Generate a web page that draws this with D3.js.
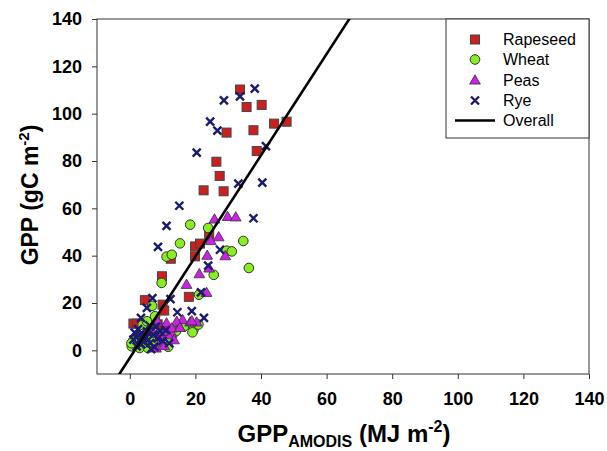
<!DOCTYPE html>
<html>
<head>
<meta charset="utf-8">
<script src="https://cdn.jsdelivr.net/npm/d3@7"></script>
<style>
  html, body { margin: 0; padding: 0; background: #fff; }
  text { font-family: "Liberation Sans", Arial, sans-serif; }
</style>
</head>
<body>
<svg id="chart" width="607" height="451"></svg>
<script>
// ---- Data ----
const xTicks = [0, 20, 40, 60, 80, 100, 120, 140];
const yTicks = [0, 20, 40, 60, 80, 100, 120, 140];
const seriesNames = ["Rapeseed", "Wheat", "Peas", "Rye", "Overall"];

const rapeseed = [[33.6,110.2],[35.6,102.8],[40.2,103.7],[44.0,95.8],[47.8,96.6],[29.5,92.0],[37.7,93.0],[38.7,84.2],[26.4,79.7],[27.4,73.7],[22.5,67.6],[28.6,67.2],[19.9,43.9],[21.4,45.1],[19.9,39.7],[12.5,38.7],[9.8,31.3],[24.2,49.2],[18.0,22.6],[4.6,21.2],[10.0,19.3],[10.5,16.8],[1.1,11.3],[2.1,11.3],[8.5,11.0],[5.5,7.0],[3.0,5.0],[2.5,3.5]];

const wheat = [[18.4,53.1],[23.9,51.7],[15.3,45.2],[34.6,46.2],[29.5,42.1],[31.1,41.8],[11.2,39.6],[12.8,40.4],[36.3,34.8],[25.6,31.9],[9.7,28.5],[21.1,23.5],[6.8,18.8],[7.7,14.4],[19.4,8.7],[19.1,7.6],[14.1,8.1],[16.5,10.1],[20.9,10.9],[3.9,10.7],[5.2,12.3],[8.7,2.1],[1.6,2.4],[0.6,1.7],[3.0,1.0],[11.7,1.5],[6.2,5.0],[9.5,6.5],[2.5,6.0],[4.5,3.0],[12.5,5.0],[1.0,4.0],[5.5,1.0],[7.0,3.5],[0.5,3.0]];

const peas = [[25.8,55.5],[29.8,56.6],[32.3,56.4],[27.1,48.0],[24.7,46.4],[29.1,40.0],[23.6,40.2],[24.2,34.8],[21.2,32.4],[17.3,27.9],[23.4,24.5],[20.4,12.0],[16.1,13.0],[15.1,10.1],[12.8,7.3],[8.4,12.0],[10.7,10.1],[9.2,3.4],[8.2,13.0],[11.2,11.6],[14.3,12.3],[18.4,12.0],[12.8,9.5],[15.3,9.7],[9.2,5.9],[11.7,6.6],[18.9,12.5],[7.0,8.0],[10.0,8.0],[13.5,4.5],[10.5,2.0],[8.0,1.0]];

const rye = [[38.1,110.6],[33.6,107.3],[28.7,105.6],[24.5,96.6],[26.7,92.8],[20.4,83.5],[41.5,86.3],[33.1,70.4],[40.4,70.9],[15.1,61.1],[11.2,52.6],[8.6,43.7],[37.7,55.8],[27.5,42.5],[23.9,35.8],[21.7,24.5],[6.9,22.1],[5.2,17.9],[12.4,21.6],[14.5,16.1],[18.9,16.6],[22.6,13.7],[3.4,13.7],[1.1,4.5],[3.1,6.6],[5.2,8.0],[7.2,6.6],[9.2,8.0],[4.1,3.8],[6.2,3.1],[2.1,1.7],[8.0,10.0],[5.0,5.5],[10.0,4.0],[7.5,1.5],[2.5,9.0],[12.0,3.0],[1.5,7.5],[3.5,2.5],[6.0,10.5],[4.0,5.0],[8.5,5.0],[6.5,0.5],[2.0,5.5],[11.0,8.5]];

// Overall regression: GPP = slope * x + intercept
const overallSlope = 2.14;
const overallIntercept = -3.2;

// ---- Layout ----
const svg = d3.select("#chart");
const L = 97, R = 589, T = 19, B = 374;
const x = d3.scaleLinear().domain([-10, 140]).range([L, R]);
const y = d3.scaleLinear().domain([-10, 140]).range([B, T]);

const FONT = "'Liberation Sans', Arial, sans-serif";

svg.append("defs").append("clipPath").attr("id", "clip")
  .append("rect").attr("x", L).attr("y", T).attr("width", R - L).attr("height", B - T);

// Frame
svg.append("rect").attr("x", L).attr("y", T).attr("width", R - L).attr("height", B - T)
  .attr("fill", "none").attr("stroke", "#333").attr("stroke-width", 1);

// Axes
const xAxis = svg.append("g").attr("transform", `translate(0,${B})`)
  .call(d3.axisBottom(x).tickValues(xTicks).tickSize(5).tickPadding(13));
const yAxis = svg.append("g").attr("transform", `translate(${L},0)`)
  .call(d3.axisLeft(y).tickValues(yTicks).tickSize(5).tickPadding(10));
[xAxis, yAxis].forEach(g => {
  g.select(".domain").remove();
  g.selectAll(".tick line").attr("stroke", "#333");
  g.selectAll(".tick text").attr("font-family", FONT).attr("font-size", 18)
    .attr("font-weight", "bold").attr("fill", "#000");
});

const plot = svg.append("g").attr("clip-path", "url(#clip)");

// Rapeseed squares
const sq = 9;
plot.append("g").selectAll("rect").data(rapeseed).join("rect")
  .attr("x", d => x(d[0]) - sq / 2).attr("y", d => y(d[1]) - sq / 2)
  .attr("width", sq).attr("height", sq)
  .attr("fill", "#cc1f1f").attr("stroke", "#444").attr("stroke-width", 1);

// Wheat circles
plot.append("g").selectAll("circle").data(wheat).join("circle")
  .attr("cx", d => x(d[0])).attr("cy", d => y(d[1])).attr("r", 4.8)
  .attr("fill", "#88ee22").attr("stroke", "#333").attr("stroke-width", 1);

// Peas triangles
const tri = d3.symbol().type(d3.symbolTriangle).size(50);
plot.append("g").selectAll("path").data(peas).join("path")
  .attr("d", tri)
  .attr("transform", d => `translate(${x(d[0])},${y(d[1]) + 1})`)
  .attr("fill", "#cc22e6").attr("stroke", "#333").attr("stroke-width", 0.8);

// Rye crosses
const cs = 4;
plot.append("g").selectAll("path").data(rye).join("path")
  .attr("d", d => {
    const px = x(d[0]), py = y(d[1]);
    return `M${px - cs},${py - cs}L${px + cs},${py + cs}M${px - cs},${py + cs}L${px + cs},${py - cs}`;
  })
  .attr("stroke", "#1a1a6e").attr("stroke-width", 2.4).attr("fill", "none");

// Overall line
const lineX = [-10, 140];
plot.append("path")
  .datum(lineX.map(v => [v, overallSlope * v + overallIntercept]))
  .attr("d", d3.line().x(d => x(d[0])).y(d => y(d[1])))
  .attr("stroke", "#000").attr("stroke-width", 2.6).attr("fill", "none");

// Legend
const lg = svg.append("g");
lg.append("rect").attr("x", 446).attr("y", T).attr("width", R - 446).attr("height", 138 - T)
  .attr("fill", "#fff").attr("stroke", "#333").attr("stroke-width", 1);
const rowsY = [39.5, 59.5, 80, 100.5, 120.5];
const symX = 475, textX = 503;
lg.append("rect").attr("x", symX - 4.5).attr("y", rowsY[0] - 4.5).attr("width", 9).attr("height", 9)
  .attr("fill", "#cc1f1f").attr("stroke", "#444");
lg.append("circle").attr("cx", symX).attr("cy", rowsY[1]).attr("r", 4.8)
  .attr("fill", "#88ee22").attr("stroke", "#333");
lg.append("path").attr("d", tri).attr("transform", `translate(${symX},${rowsY[2] + 1})`)
  .attr("fill", "#cc22e6").attr("stroke", "#333").attr("stroke-width", 0.8);
lg.append("path").attr("d", `M${symX - cs},${rowsY[3] - cs}L${symX + cs},${rowsY[3] + cs}M${symX - cs},${rowsY[3] + cs}L${symX + cs},${rowsY[3] - cs}`)
  .attr("stroke", "#1a1a6e").attr("stroke-width", 2.4);
lg.append("line").attr("x1", 455).attr("x2", 495).attr("y1", rowsY[4]).attr("y2", rowsY[4])
  .attr("stroke", "#000").attr("stroke-width", 2.6);
lg.selectAll("text.lt").data(seriesNames).join("text").attr("class", "lt")
  .attr("x", textX).attr("y", (d, i) => rowsY[i]).attr("dy", "0.36em")
  .attr("font-family", FONT).attr("font-size", 16).attr("fill", "#000")
  .text(d => d);

// Axis titles
const xt = svg.append("text").attr("x", 344).attr("y", 442).attr("text-anchor", "middle")
  .attr("font-family", FONT).attr("font-size", 24).attr("font-weight", "bold").attr("fill", "#000");
xt.append("tspan").text("GPP");
xt.append("tspan").attr("font-size", 16).attr("dy", 5).text("AMODIS");
xt.append("tspan").attr("dy", -5).text(" (MJ m");
xt.append("tspan").attr("font-size", 16).attr("dy", -10).text("-2");
xt.append("tspan").attr("dy", 10).text(")");

const yt = svg.append("text").attr("transform", "translate(38,195) rotate(-90)").attr("text-anchor", "middle")
  .attr("font-family", FONT).attr("font-size", 23).attr("font-weight", "bold").attr("fill", "#000");
yt.append("tspan").text("GPP (gC m");
yt.append("tspan").attr("font-size", 15).attr("dy", -9).text("-2");
yt.append("tspan").attr("dy", 9).text(")");
</script>
</body>
</html>
